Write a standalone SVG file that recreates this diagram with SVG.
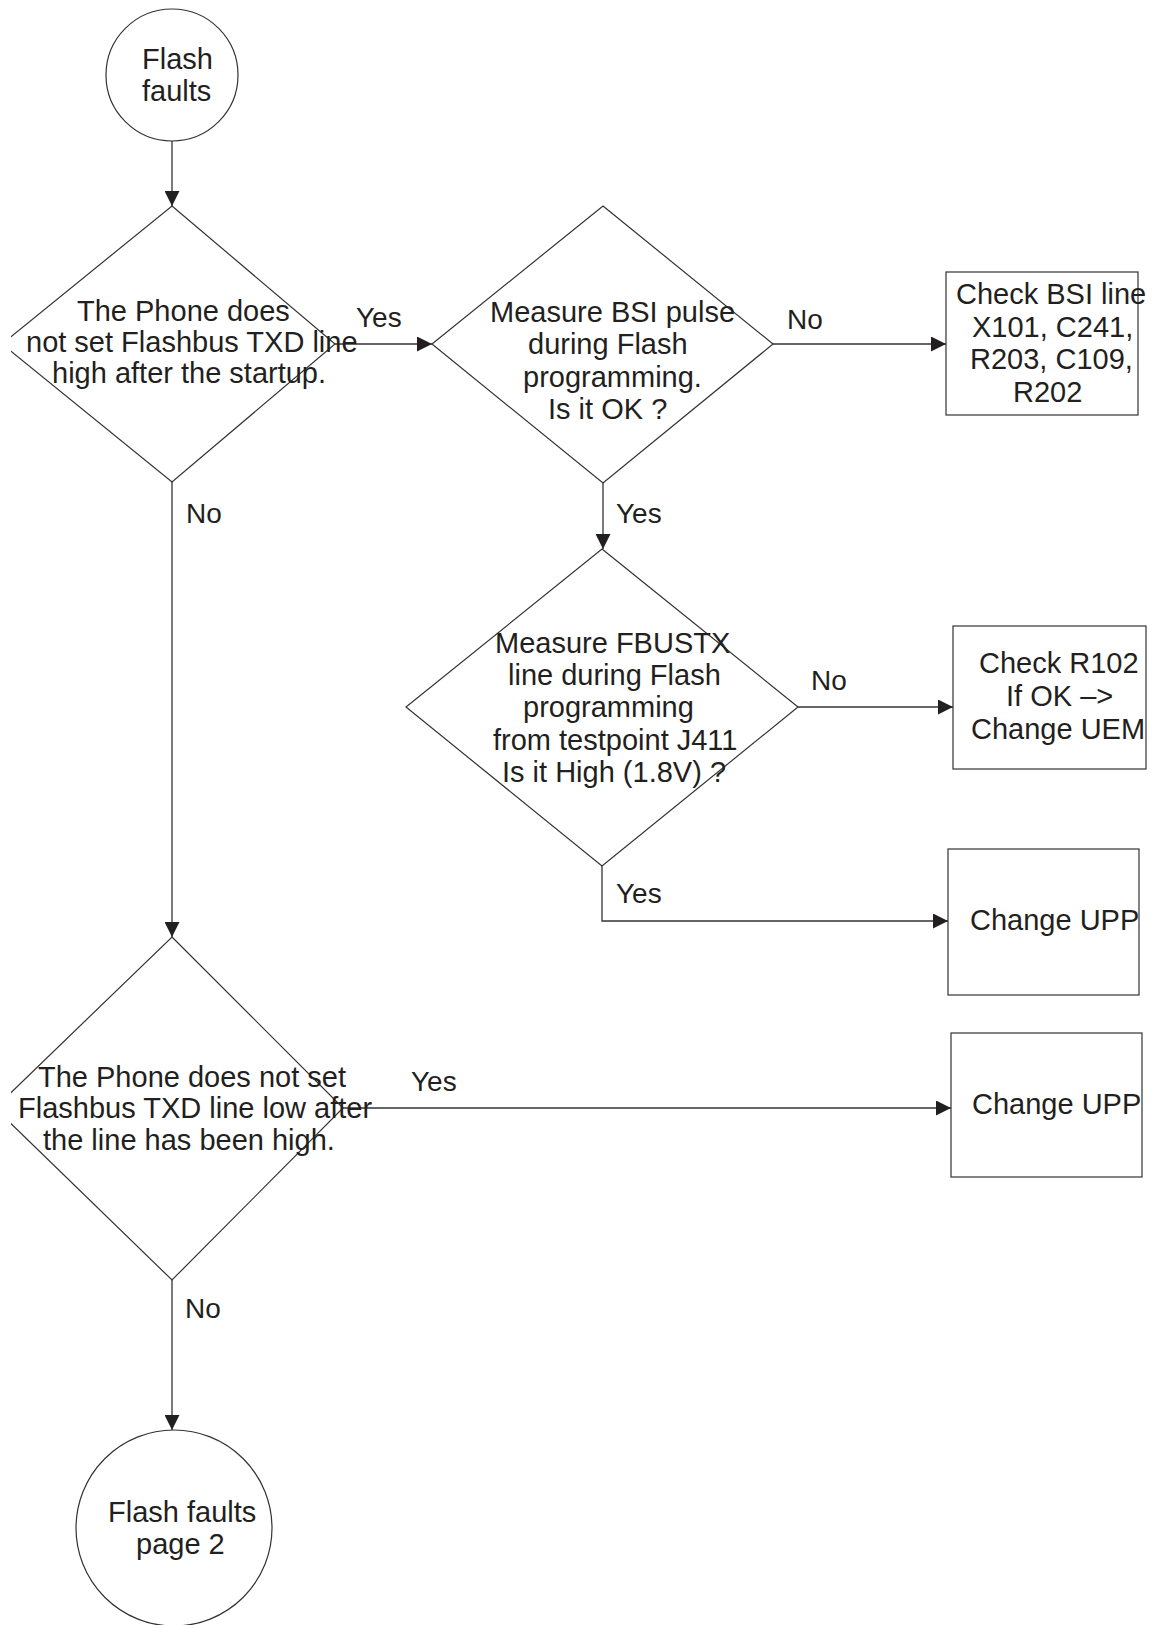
<svg xmlns="http://www.w3.org/2000/svg" width="1154" height="1625" viewBox="0 0 1154 1625">
<style>
  .shape{fill:#fff;stroke:#333;stroke-width:1.2}
  .conn{fill:none;stroke:#333;stroke-width:1.3}
  text{font-family:"Liberation Sans",Arial,sans-serif;font-size:29px;fill:#231f20}
  .lbl{font-size:28px}
</style>
<defs>
  <marker id="arr" viewBox="0 0 15 15" refX="15" refY="7.5" markerWidth="15" markerHeight="15" markerUnits="userSpaceOnUse" orient="auto">
    <path d="M0,0 L15,7.5 L0,15 Z" fill="#231f20"/>
  </marker>
  <clipPath id="page"><rect x="11" y="0" width="1143" height="1625"/></clipPath>
</defs>
<rect width="1154" height="1625" fill="#fff"/>

<g id="connectors">
  <line class="conn" x1="172" y1="141" x2="172" y2="206" marker-end="url(#arr)"/>
  <line class="conn" x1="335" y1="344" x2="432" y2="344" marker-end="url(#arr)"/>
  <line class="conn" x1="773" y1="344" x2="946" y2="344" marker-end="url(#arr)"/>
  <line class="conn" x1="603" y1="483" x2="603" y2="549" marker-end="url(#arr)"/>
  <line class="conn" x1="798" y1="707" x2="953" y2="707" marker-end="url(#arr)"/>
  <polyline class="conn" points="602,866 602,921 948,921" marker-end="url(#arr)"/>
  <line class="conn" x1="172" y1="482" x2="172" y2="937" marker-end="url(#arr)"/>
  <line class="conn" x1="343" y1="1108" x2="951" y2="1108" marker-end="url(#arr)"/>
  <line class="conn" x1="172" y1="1280" x2="172" y2="1430" marker-end="url(#arr)"/>
  <text class="lbl" x="356" y="327">Yes</text>
  <text class="lbl" x="787" y="329">No</text>
  <text class="lbl" x="186" y="523">No</text>
  <text class="lbl" x="616" y="523">Yes</text>
  <text class="lbl" x="811" y="690">No</text>
  <text class="lbl" x="616" y="903">Yes</text>
  <text class="lbl" x="411" y="1091">Yes</text>
  <text class="lbl" x="185" y="1318">No</text>
</g>

<g id="start">
  <circle class="shape" cx="172" cy="75" r="66"/>
  <text x="142" y="69">Flash</text>
  <text x="142" y="101">faults</text>
</g>

<g id="decision1">
  <polygon class="shape" clip-path="url(#page)" points="172,206 335,344 172,482 2,344"/>
  <text x="77" y="321">The Phone does</text>
  <text x="26" y="352">not set Flashbus TXD line</text>
  <text x="52" y="383">high after the startup.</text>
</g>

<g id="decision2">
  <polygon class="shape" points="603,206 773,344 603,483 432,344"/>
  <text x="490" y="322">Measure BSI pulse</text>
  <text x="528" y="354">during Flash</text>
  <text x="523" y="387">programming.</text>
  <text x="548" y="419">Is it OK ?</text>
</g>

<g id="box-bsi">
  <rect class="shape" x="946" y="272" width="192" height="143"/>
  <text x="956" y="304">Check BSI line</text>
  <text x="972" y="337">X101, C241,</text>
  <text x="970" y="369">R203, C109,</text>
  <text x="1013" y="402">R202</text>
</g>

<g id="decision3">
  <polygon class="shape" points="602,549 798,707 602,866 406,707"/>
  <text x="495" y="653">Measure FBUSTX</text>
  <text x="508" y="685">line during Flash</text>
  <text x="523" y="717">programming</text>
  <text x="493" y="750">from testpoint J411</text>
  <text x="502" y="782">Is it High (1.8V) ?</text>
</g>

<g id="box-r102">
  <rect class="shape" x="953" y="626" width="193" height="143"/>
  <text x="979" y="673">Check R102</text>
  <text x="1006" y="706">If OK –&gt;</text>
  <text x="971" y="739">Change UEM</text>
</g>

<g id="box-upp1">
  <rect class="shape" x="948" y="849" width="191" height="146"/>
  <text x="970" y="930">Change UPP</text>
</g>

<g id="decision4">
  <polygon class="shape" clip-path="url(#page)" points="172,937 343,1108 172,1280 -5,1108"/>
  <text x="38" y="1087">The Phone does not set</text>
  <text x="18" y="1118">Flashbus TXD line low after</text>
  <text x="43" y="1150">the line has been high.</text>
</g>

<g id="box-upp2">
  <rect class="shape" x="951" y="1033" width="191" height="144"/>
  <text x="972" y="1114">Change UPP</text>
</g>

<g id="end">
  <circle class="shape" cx="174" cy="1528" r="98"/>
  <text x="108" y="1522">Flash faults</text>
  <text x="136" y="1554">page 2</text>
</g>
</svg>
